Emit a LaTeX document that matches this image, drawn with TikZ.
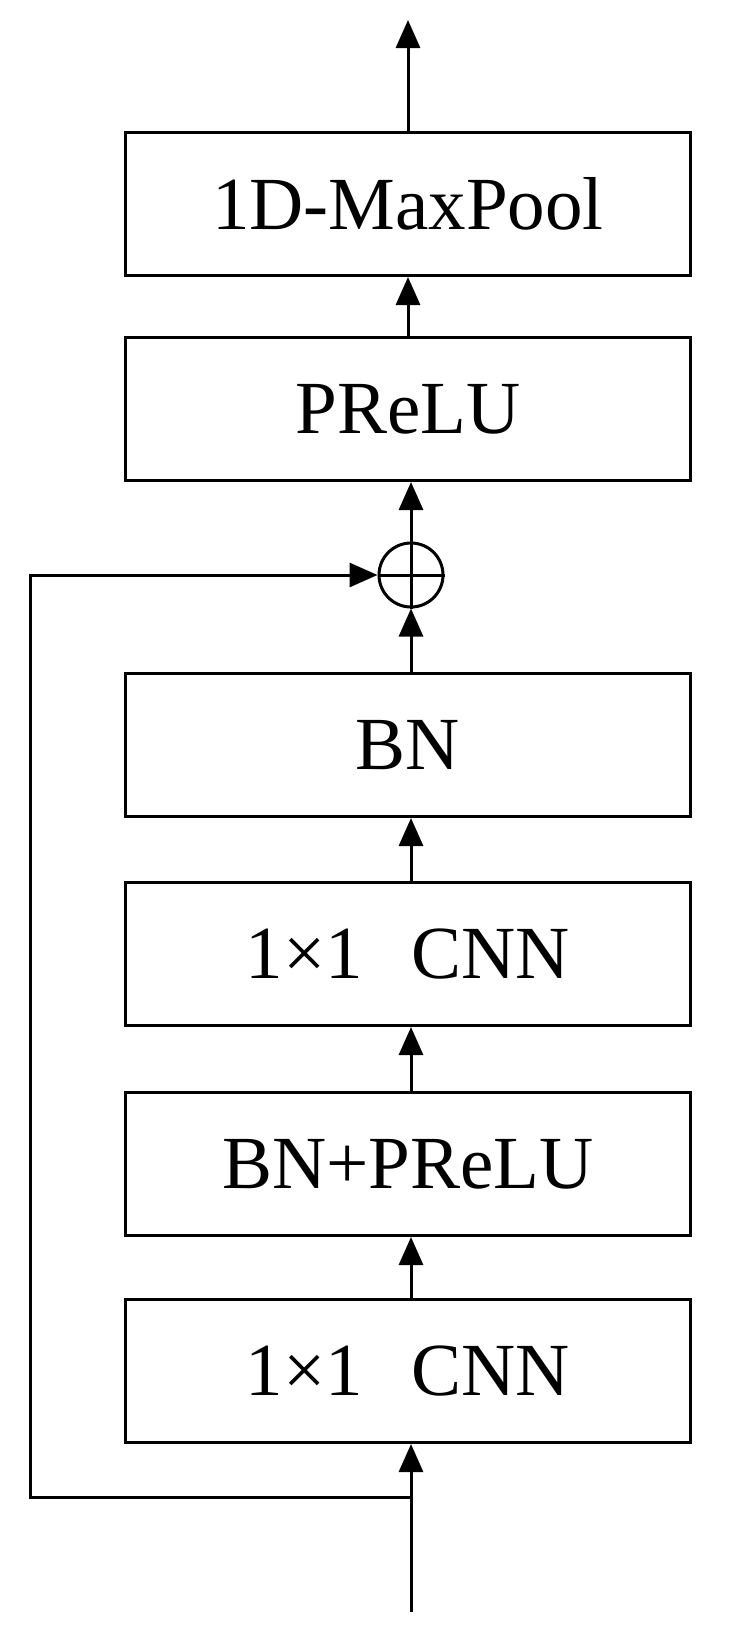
\documentclass[tikz,border=0pt]{standalone}
\usepackage{fontspec}
\setmainfont{Liberation Serif}
\usetikzlibrary{arrows.meta}
\begin{document}
\begin{tikzpicture}[x=1pt,y=-1pt,
  box/.style={draw,line width=3pt,minimum width=565pt,minimum height=143pt,inner sep=0pt,font=\fontsize{75}{80}\selectfont},
  arr/.style={line width=3pt,-{Triangle[length=28pt,width=24pt]}}]
\useasboundingbox (0,0) rectangle (742,1633);
\node[box] (mp) at (408,204) {1D-MaxPool};
\node[box] (pr) at (408,409) {PReLU};
\node[draw,circle,line width=3pt,minimum size=64pt,inner sep=0pt] (add) at (411,575) {};
\draw[line width=3pt] (add.north)--(add.south) (add.west)--(add.east);
\node[box] (bn) at (408,745) {BN};
\node[box] (c2) at (408,954) {1×1\hspace{0.4em} CNN};
\node[box] (bp) at (408,1164) {BN+PReLU};
\node[box] (c1) at (408,1371) {1×1\hspace{0.4em} CNN};
\coordinate (in) at (411,1612);
\coordinate (sp) at (411,1497);
\coordinate (out) at (408,20);
\draw[arr] (in)--(c1.south-|in);
\draw[arr,line join=miter] (sp)--(30,1497)--(30,575)--(add.west);
\draw[arr] (c1.north-|in)--(bp.south-|in);
\draw[arr] (bp.north-|in)--(c2.south-|in);
\draw[arr] (c2.north-|in)--(bn.south-|in);
\draw[arr] (bn.north-|add)--(add.south);
\draw[arr] (add.north)--(pr.south-|add);
\draw[arr] (pr.north-|mp)--(mp.south);
\draw[arr] (mp.north)--(out);
\end{tikzpicture}
\end{document}
